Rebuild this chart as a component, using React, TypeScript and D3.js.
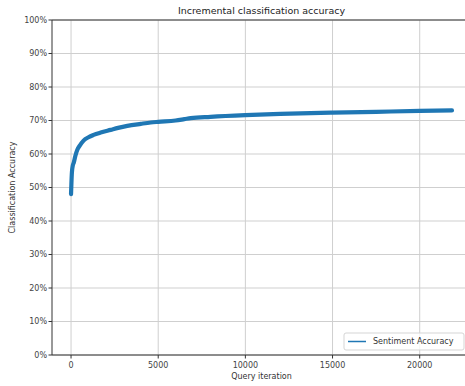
import * as d3 from 'd3';

const iterations = [0, 20, 50, 100, 160, 250, 356, 500, 718, 1000, 1293, 1700, 2270, 2700, 3230, 4000, 4570, 5000, 6000, 6500, 6868, 8000, 10000, 12000, 15000, 17500, 20000, 21850];
const accuracy = [48.0, 51.0, 54.5, 56.5, 57.5, 59.5, 61.2, 62.5, 64.0, 65.0, 65.7, 66.4, 67.2, 67.8, 68.4, 69.0, 69.4, 69.6, 70.0, 70.4, 70.7, 71.1, 71.6, 71.95, 72.35, 72.6, 72.85, 73.0];
const xTicks = [0, 5000, 10000, 15000, 20000];
const yTicks = [0, 10, 20, 30, 40, 50, 60, 70, 80, 90, 100];
const seriesName = 'Sentiment Accuracy';

const W = 465;
const H = 386;
const margin = { top: 20, right: -6, bottom: 31, left: 52 };
const font = 'DejaVu Sans, sans-serif';
const blue = '#1f77b4';

export default function App() {
  const x = d3.scaleLinear().domain([-1092, 22942]).range([margin.left, W - margin.right]);
  const y = d3.scaleLinear().domain([0, 100]).range([H - margin.bottom, margin.top]);

  const pts = iterations.map((it, i) => [it, accuracy[i]] as [number, number]);
  const line = d3.line<[number, number]>()
    .x(d => x(d[0]))
    .y(d => y(d[1]))
    .curve(d3.curveMonotoneX);

  const x0 = margin.left;
  const x1 = W - margin.right;
  const y0 = H - margin.bottom;
  const y1 = margin.top;

  return (
    <svg width={W} height={H} style={{ position: 'absolute', left: 0, top: 0, background: '#fff' }}>
      <defs>
        <clipPath id="plot">
          <rect x={x0} y={y1} width={x1 - x0} height={y0 - y1} />
        </clipPath>
      </defs>
      {/* grid */}
      <g stroke="#cfcfcf" strokeWidth={1}>
        {yTicks.map(t => (
          <line key={'gy' + t} x1={x0} x2={x1} y1={y(t)} y2={y(t)} />
        ))}
        {xTicks.map(t => (
          <line key={'gx' + t} x1={x(t)} x2={x(t)} y1={y1} y2={y0} />
        ))}
      </g>

      {/* data */}
      <path
        d={line(pts) ?? ''}
        fill="none"
        stroke={blue}
        strokeWidth={4.2}
        strokeLinecap="round"
        strokeLinejoin="round"
        clipPath="url(#plot)"
      />

      {/* spines */}
      <g stroke="#333" strokeWidth={1} fill="none">
        <line x1={x0} x2={x0} y1={y1} y2={y0} />
        <line x1={x0} x2={x1} y1={y0} y2={y0} />
        <line x1={x0} x2={x1} y1={y1} y2={y1} />
      </g>

      {/* ticks */}
      <g fontFamily={font} fontSize={8} fill="#444">
        {yTicks.map(t => (
          <g key={'ty' + t}>
            <line x1={x0 - 3.5} x2={x0} y1={y(t)} y2={y(t)} stroke="#333" />
            <text x={x0 - 5} y={y(t)} dy="0.35em" textAnchor="end">{t + '%'}</text>
          </g>
        ))}
        {xTicks.map(t => (
          <g key={'tx' + t}>
            <line x1={x(t)} x2={x(t)} y1={y0} y2={y0 + 3.5} stroke="#333" />
            <text x={x(t)} y={y0 + 13} textAnchor="middle">{t}</text>
          </g>
        ))}
      </g>

      {/* labels */}
      <text x={(x0 + x1) / 2} y={14} textAnchor="middle" fontFamily={font} fontSize={9.5} fill="#222">
        Incremental classification accuracy
      </text>
      <text x={(x0 + x1) / 2} y={379} textAnchor="middle" fontFamily={font} fontSize={8} fill="#333">
        Query iteration
      </text>
      <text
        transform={`translate(15,${(y0 + y1) / 2}) rotate(-90)`}
        textAnchor="middle"
        fontFamily={font}
        fontSize={8}
        fill="#333"
      >
        Classification Accuracy
      </text>

      {/* legend */}
      <g transform="translate(344,333)">
        <rect x={0} y={0} width={120} height={17} rx={2} fill="#fff" fillOpacity={0.8} stroke="#d5d5d5" strokeWidth={1} />
        <line x1={4} x2={22} y1={8.5} y2={8.5} stroke={blue} strokeWidth={1.5} />
        <text x={29} y={8.5} dy="0.35em" fontFamily={font} fontSize={8} fill="#333">{seriesName}</text>
      </g>
    </svg>
  );
}
